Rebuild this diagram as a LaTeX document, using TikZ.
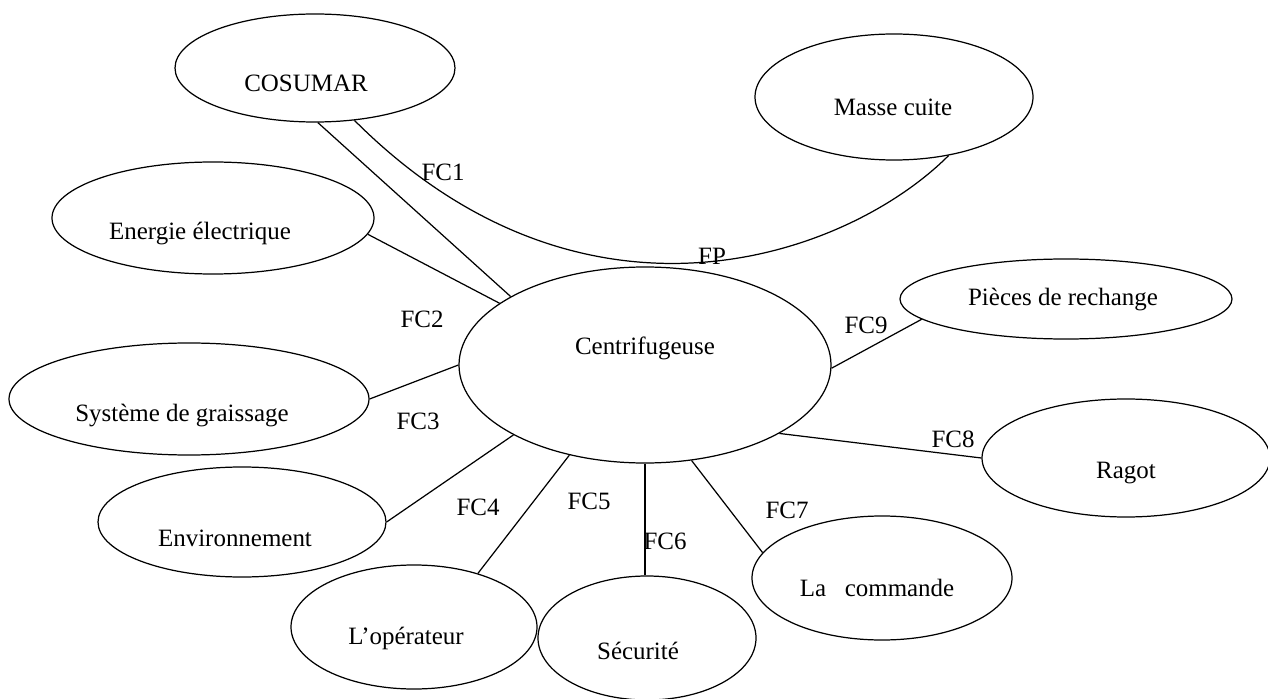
\documentclass[tikz,border=0pt]{standalone}
\usepackage{fontspec}
\setmainfont{Liberation Serif}
\usetikzlibrary{shapes.geometric}
\begin{document}
\begin{tikzpicture}[x=0.02cm, y=-0.02cm,
  bub/.style n args={2}{draw, ellipse, inner sep=0pt, line width=0.7pt,
    minimum width=#1*0.02cm, minimum height=#2*0.02cm},
  txt/.style={font=\fontsize{14.2}{16}\selectfont, inner sep=0pt},
  fc/.style={font=\fontsize{14.2}{16}\selectfont, inner sep=0pt},
  link/.style={line width=0.7pt}]
\useasboundingbox (0,0) rectangle (1268,699);

% actors around the machine
\node[bub={280}{108}, label={[txt, shift={(-9,15)}]center:COSUMAR}] (cos) at (315,68) {};
\node[bub={278}{126}, label={[txt, shift={(-1,10)}]center:Masse cuite}] (mas) at (894,97) {};
\node[bub={322}{112}, label={[txt, shift={(-13,16)}]center:Energie électrique}] (ene) at (213,218) {};
\node[bub={372}{196}, label={[txt, shift={(0,-17)}]center:Centrifugeuse}] (cen) at (645,365) {};
\node[bub={332}{80}, label={[txt, shift={(-3,1)}]center:Pièces de rechange}] (pie) at (1066,299) {};
\node[bub={360}{112}, label={[txt, shift={(-7,17)}]center:Système de graissage}] (sys) at (189,399) {};
\node[bub={288}{110}, label={[txt, shift={(-7,16)}]center:Environnement}] (env) at (242,522) {};
\node[bub={246}{124}, label={[txt, shift={(-8,11)}]center:L’opérateur}] (ope) at (414,627) {};
\node[bub={218}{124}, label={[txt, shift={(-9,13)}]center:Sécurité}] (sec) at (647,638) {};
\node[bub={260}{124}, label={[txt, shift={(-5,10)}]center:La\ \ \ commande}] (com) at (882,578) {};
\node[bub={288}{118}, label={[txt, shift={(0,15)}]center:Ragot}] (rag) at (1126,458) {};

% functions
\draw[link] (cos.-87) -- (cen.153);
\draw[link] (cos.-53) .. controls +(231,231) and +(-101,101) .. (mas.-47);
\draw[link] (ene.-6) -- (cen.157.6);
\draw[link] (sys.0) -- (cen.180);
\draw[link] (env.0) -- (cen.208.5);
\draw[link] (ope.40) -- (cen.230.4);
\draw[link] (cen.-90) -- (cen.-90 |- sec.north);
\draw[link] (cen.-64.4) -- (com.168.7);
\draw[link] (cen.-27.7) -- (rag.180);
\draw[link] (cen.-1) -- (pie.188);

% function labels
\node[fc] (l1) at (443,172) {FC1};
\node[fc] (lp) at (712,256) {FP};
\node[fc] (l2) at (422,319) {FC2};
\node[fc] (l3) at (418,421) {FC3};
\node[fc] (l4) at (478,507) {FC4};
\node[fc] (l5) at (589,501) {FC5};
\node[fc] (l6) at (665,541) {FC6};
\node[fc] (l7) at (787,510) {FC7};
\node[fc] (l8) at (953,439) {FC8};
\node[fc] (l9) at (866,325) {FC9};
\end{tikzpicture}
\end{document}
